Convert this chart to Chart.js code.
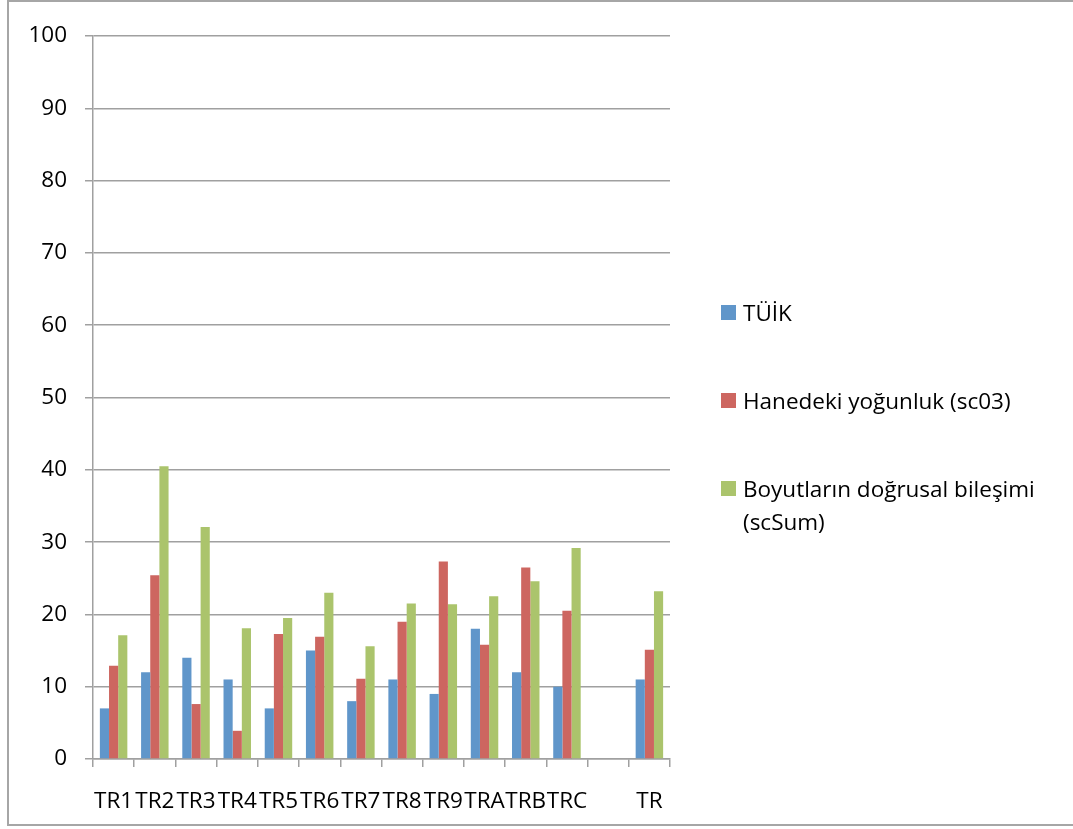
<!DOCTYPE html>
<html lang="tr">
  <head>
    <meta charset="utf-8" />
    <title>TR bölgeleri</title>
    <style>
      * {
        margin: 0;
        padding: 0;
      }
      body {
        background: white;
        font-family: "Open Sans", sans-serif;
      }
      .chartBox {
        position: relative;
        width: 1073px;
        height: 829px;
        overflow: hidden;
      }
      /* the grey frame around the chart, right edge is off-screen */
      .frame {
        position: absolute;
        left: 7px;
        top: 0px;
        width: 1100px;
        height: 826px;
        border: solid 2px #a6a6a6;
        box-sizing: border-box;
      }
      #myChart {
        position: absolute;
        left: 0;
        top: 0;
      }
      .legend {
        position: absolute;
        left: 720px;
        top: 296px;
        font-size: 22.5px;
        line-height: 33px;
        color: #000;
      }
      .legend div {
        position: relative;
        padding-left: 23px;
        width: 310px;
        margin-bottom: 55px;
      }
      .legend span {
        position: absolute;
        left: 1px;
        top: 9px;
        width: 15px;
        height: 15px;
      }
    </style>
  </head>
  <body>
    <div class="chartBox">
      <div class="frame"></div>
      <canvas id="myChart" width="1073" height="829"></canvas>
      <div class="legend" id="legend"></div>
    </div>

    <script src="https://cdn.jsdelivr.net/npm/chart.js"></script>

    <script>
      const regions = ["TR1", "TR2", "TR3", "TR4", "TR5", "TR6", "TR7", "TR8", "TR9", "TRA", "TRB", "TRC", "", "TR"];
      const seriesNames = ["TÜİK", "Hanedeki yoğunluk (sc03)", "Boyutların doğrusal bileşimi (scSum)"];
      const tuik = [7, 12, 14, 11, 7, 15, 8, 11, 9, 18, 12, 10, null, 11];
      const sc03 = [12.9, 25.4, 7.6, 3.9, 17.3, 16.9, 11.1, 19.0, 27.3, 15.8, 26.5, 20.5, null, 15.1];
      const scSum = [17.1, 40.5, 32.1, 18.1, 19.5, 23.0, 15.6, 21.5, 21.4, 22.5, 24.6, 29.2, null, 23.2];
      const yTicks = [0, 10, 20, 30, 40, 50, 60, 70, 80, 90, 100];

      const colors = ["#6096ca", "#cd6660", "#abc46c"];
      const axisGrey = "#a0a0a0";
      const font = { family: "'Open Sans', sans-serif", size: 22.5 };

      const data = {
        labels: regions,
        datasets: [tuik, sc03, scSum].map((values, i) => ({
          label: seriesNames[i],
          data: values,
          backgroundColor: colors[i],
          borderWidth: 0,
          // Excel gap width 150% => 3 bars out of 4.5 bar widths
          categoryPercentage: 3 / 4.5,
          barPercentage: 1,
        })),
      };

      const config = {
        type: "bar",
        data: data,
        options: {
          responsive: false,
          animation: false,
          layout: {
            padding: { left: 0, top: 36, right: 403, bottom: 0 },
          },
          plugins: {
            legend: { display: false },
            tooltip: { enabled: false },
          },
          scales: {
            x: {
              grid: {
                offset: true,
                drawOnChartArea: false,
                drawTicks: true,
                tickLength: 8,
                color: axisGrey,
                lineWidth: 1.5,
              },
              border: { color: axisGrey, width: 1.5 },
              ticks: {
                autoSkip: false,
                maxRotation: 0,
                minRotation: 0,
                color: "#000",
                font: font,
                padding: 21,
              },
              afterFit(scale) {
                scale.height = 70;
              },
            },
            y: {
              min: 0,
              max: 100,
              afterBuildTicks(scale) {
                scale.ticks = yTicks.map((v) => ({ value: v }));
              },
              grid: {
                color: axisGrey,
                lineWidth: 1.5,
                tickLength: 8,
              },
              border: { color: axisGrey, width: 1.5 },
              ticks: {
                color: "#000",
                font: font,
                padding: 18,
              },
              afterFit(scale) {
                scale.width = 93;
              },
            },
          },
        },
      };

      const myChart = new Chart(document.getElementById("myChart"), config);

      // legend built by hand so the long label can wrap like the original
      const legendBox = document.getElementById("legend");
      data.datasets.forEach((ds) => {
        const item = document.createElement("div");
        const swatch = document.createElement("span");
        swatch.style.background = ds.backgroundColor;
        item.appendChild(swatch);
        item.appendChild(document.createTextNode(ds.label));
        legendBox.appendChild(item);
      });
    </script>
  </body>
</html>
